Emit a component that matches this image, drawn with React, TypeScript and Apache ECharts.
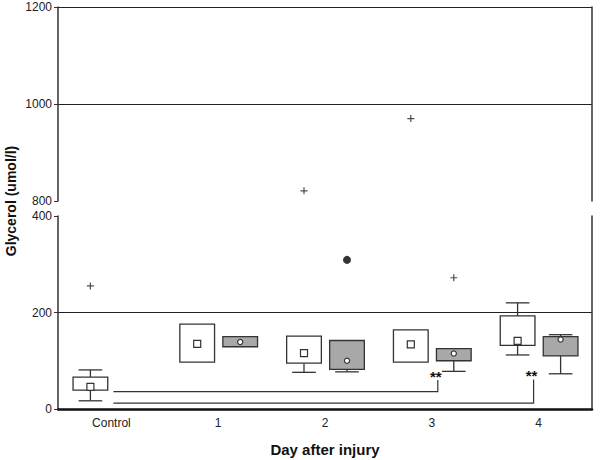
import React, { useEffect, useRef } from "react";
import * as echarts from "echarts";

const categories = ["Control", "1", "2", "3", "4"];
// [low whisker, Q1, Q3, high whisker, marker]
const groupWhite: (number[] | null)[] = [
  [17, 39, 66, 81, 46],
  [97, 97, 176, 176, 135],
  [76, 95, 151, 151, 116],
  [97, 97, 164, 164, 134],
  [112, 132, 193, 220, 141],
];
const groupGrey: (number[] | null)[] = [
  null,
  [129, 129, 150, 150, 139],
  [77, 82, 142, 142, 100],
  [78, 100, 125, 125, 115],
  [73, 110, 150, 154, 144],
];
// [category index, value]
const outliersWhite = [
  [0, 255],
  [2, 821],
  [3, 970],
];
const outliersGrey = [[3, 272]];
const extremesGrey = [[2, 309]];
// [from category, to category, line level, top level]
const brackets = [
  [0, 3, 36, 60],
  [0, 4, 12, 61],
];
const bracketLabels = ["**", "**"];

const upperTicks = [800, 1000, 1200];
const lowerTicks = [0, 200, 400];

const FONT = "'Liberation Sans', Arial, sans-serif";
const INK = "#333";
const TXT = "#222";
const WHITE_OFF = -21;
const GREY_OFF = 22;
const plusPath = "path://M0,5H10M5,0V10";

function boxRender(offset: number, fill: string, marker: "square" | "circle") {
  return (params: any, api: any) => {
    const idx = api.value(0);
    const lo = api.value(1), q1 = api.value(2), q3 = api.value(3), hi = api.value(4), mid = api.value(5);
    const band = api.size([1, 0])[0];
    const cx = api.coord([idx, 0])[0] + offset;
    const w = band * 0.325;
    const cap = w * 0.68;
    const y = (v: number) => api.coord([idx, v])[1];
    const stroke = { stroke: INK, lineWidth: 1.3 };
    const children: any[] = [];
    if (hi > q3) {
      children.push({ type: "line", shape: { x1: cx, y1: y(q3), x2: cx, y2: y(hi) }, style: stroke });
      children.push({ type: "line", shape: { x1: cx - cap / 2, y1: y(hi), x2: cx + cap / 2, y2: y(hi) }, style: stroke });
    }
    if (lo < q1) {
      children.push({ type: "line", shape: { x1: cx, y1: y(q1), x2: cx, y2: y(lo) }, style: stroke });
      children.push({ type: "line", shape: { x1: cx - cap / 2, y1: y(lo), x2: cx + cap / 2, y2: y(lo) }, style: stroke });
    }
    children.push({
      type: "rect",
      shape: { x: cx - w / 2, y: y(q3), width: w, height: y(q1) - y(q3) },
      style: { fill, ...stroke },
    });
    if (marker === "square") {
      children.push({
        type: "rect",
        shape: { x: cx - 3.5, y: y(mid) - 3.5, width: 7, height: 7 },
        style: { fill: "#fff", stroke: INK, lineWidth: 1.2 },
      });
    } else {
      children.push({
        type: "circle",
        shape: { cx, cy: y(mid), r: 2.6 },
        style: { fill: "#fff", stroke: INK, lineWidth: 1.2 },
      });
    }
    return { type: "group", children };
  };
}

function bracketRender(params: any, api: any) {
  const i = params.dataIndex;
  const from = api.value(0), to = api.value(1), level = api.value(2), top = api.value(3);
  const x1 = api.coord([from, level])[0] + 2;
  const shift = i === 0 ? 6 : -5;
  const x2 = api.coord([to, level])[0] + shift;
  const yl = api.coord([from, level])[1];
  const yt = api.coord([from, top])[1];
  return {
    type: "group",
    children: [
      {
        type: "polyline",
        shape: { points: [[x1, yl], [x2, yl], [x2, yt]] },
        style: { fill: "none", stroke: INK, lineWidth: 1.2 },
      },
      {
        type: "text",
        x: x2 - 2,
        y: yt - 4,
        style: {
          text: bracketLabels[i],
          fill: "#111",
          font: `bold 15px ${FONT}`,
          align: "center",
          verticalAlign: "middle",
        },
      },
    ],
  };
}

function toRows(group: (number[] | null)[]) {
  return group
    .map((g, i) => (g ? [i, ...g] : null))
    .filter((r) => r !== null) as number[][];
}

export default function App() {
  const ref = useRef<HTMLDivElement>(null);
  useEffect(() => {
    if (!ref.current) return;
    const chart = echarts.init(ref.current, undefined, { renderer: "svg" });
    const yLabel = { fontSize: 12, color: TXT, fontFamily: FONT, margin: 6, formatter: (v: number) => String(v) };
    const upperWhite = outliersWhite.filter((p) => p[1] >= 800);
    const lowerWhite = outliersWhite.filter((p) => p[1] < 800);
    const plusStyle = { color: "transparent", borderColor: "#222", borderWidth: 1.2 };
    chart.setOption({
      animation: false,
      backgroundColor: "#fff",
      grid: [
        { left: 58, right: 8, top: 7, height: 194 },
        { left: 58, right: 8, top: 216, height: 193 },
      ],
      xAxis: [
        { type: "category", gridIndex: 0, data: categories, show: false },
        {
          type: "category",
          gridIndex: 1,
          data: categories,
          axisLine: { lineStyle: { color: "#111", width: 2.5 } },
          axisTick: { inside: true, alignWithLabel: true, length: 4, lineStyle: { color: INK } },
          axisLabel: { fontSize: 12, color: TXT, fontFamily: FONT, margin: 8 },
          name: "Day after injury",
          nameLocation: "middle",
          nameGap: 33,
          nameTextStyle: { fontSize: 15, fontWeight: "bold", color: "#111", fontFamily: FONT },
        },
      ],
      yAxis: [
        {
          type: "value",
          gridIndex: 0,
          min: upperTicks[0],
          max: upperTicks[upperTicks.length - 1],
          interval: 200,
          axisLine: { show: true, lineStyle: { color: INK, width: 1.5 } },
          axisTick: { show: true, length: 4, lineStyle: { color: INK } },
          axisLabel: yLabel,
          splitLine: { show: true, showMinLine: false, showMaxLine: true, lineStyle: { color: "#222", width: 1.2 } },
        },
        {
          type: "value",
          gridIndex: 0,
          position: "right",
          min: upperTicks[0],
          max: upperTicks[upperTicks.length - 1],
          axisLine: { show: true, lineStyle: { color: INK, width: 1.5 } },
          axisTick: { show: false },
          axisLabel: { show: false },
          splitLine: { show: false },
        },
        {
          type: "value",
          gridIndex: 1,
          min: lowerTicks[0],
          max: lowerTicks[lowerTicks.length - 1],
          interval: 200,
          axisLine: { show: true, lineStyle: { color: INK, width: 1.5 } },
          axisTick: { show: true, length: 4, lineStyle: { color: INK } },
          axisLabel: yLabel,
          splitLine: { show: true, showMinLine: false, showMaxLine: false, lineStyle: { color: "#222", width: 1.2 } },
        },
        {
          type: "value",
          gridIndex: 1,
          position: "right",
          min: lowerTicks[0],
          max: lowerTicks[lowerTicks.length - 1],
          axisLine: { show: true, lineStyle: { color: INK, width: 1.5 } },
          axisTick: { show: false },
          axisLabel: { show: false },
          splitLine: { show: false },
        },
      ],
      graphic: [
        {
          type: "text",
          x: 11,
          y: 201,
          rotation: Math.PI / 2,
          style: {
            text: "Glycerol (umol/l)",
            font: `bold 14px ${FONT}`,
            fill: "#111",
            align: "center",
            verticalAlign: "middle",
          },
        },
      ],
      series: [
        {
          type: "custom",
          name: "Group white",
          xAxisIndex: 1,
          yAxisIndex: 2,
          data: toRows(groupWhite),
          encode: { x: 0, y: [1, 2, 3, 4, 5] },
          renderItem: boxRender(WHITE_OFF, "#fff", "square"),
        },
        {
          type: "custom",
          name: "Group grey",
          xAxisIndex: 1,
          yAxisIndex: 2,
          data: toRows(groupGrey),
          encode: { x: 0, y: [1, 2, 3, 4, 5] },
          renderItem: boxRender(GREY_OFF, "#a8a8a8", "circle"),
        },
        {
          type: "custom",
          name: "Significance",
          xAxisIndex: 1,
          yAxisIndex: 2,
          data: brackets,
          encode: { x: [0, 1], y: [2, 3] },
          renderItem: bracketRender,
        },
        {
          type: "scatter",
          xAxisIndex: 1,
          yAxisIndex: 2,
          data: lowerWhite,
          symbol: plusPath,
          symbolSize: 7,
          symbolOffset: [WHITE_OFF, 0],
          itemStyle: plusStyle,
        },
        {
          type: "scatter",
          xAxisIndex: 0,
          yAxisIndex: 0,
          data: upperWhite,
          symbol: plusPath,
          symbolSize: 7,
          symbolOffset: [WHITE_OFF, 0],
          itemStyle: plusStyle,
        },
        {
          type: "scatter",
          xAxisIndex: 1,
          yAxisIndex: 2,
          data: outliersGrey,
          symbol: plusPath,
          symbolSize: 7,
          symbolOffset: [GREY_OFF, 0],
          itemStyle: plusStyle,
        },
        {
          type: "scatter",
          xAxisIndex: 1,
          yAxisIndex: 2,
          data: extremesGrey,
          symbol: "circle",
          symbolSize: 8,
          symbolOffset: [GREY_OFF, 0],
          itemStyle: { color: "#000" },
        },
      ],
    });
    return () => chart.dispose();
  }, []);
  return <div ref={ref} style={{ width: 600, height: 460, position: "absolute", left: 0, top: 0 }} />;
}
